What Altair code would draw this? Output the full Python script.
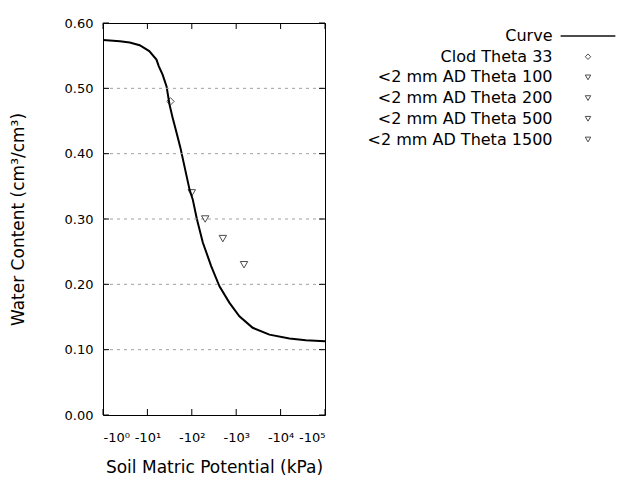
import altair as alt
import pandas as pd

# ---- data ----
curve_kpa = [1, 2.4, 4, 6.7, 11, 16, 18, 22, 27, 31.5, 37, 43, 55, 89, 105, 130, 177,
             273, 420, 700, 1180, 2350, 5600, 15800, 37000, 100000]
curve_theta = [0.574, 0.572, 0.570, 0.566, 0.557, 0.544, 0.534, 0.521, 0.503, 0.475,
               0.455, 0.438, 0.410, 0.345, 0.330, 0.300, 0.264, 0.228, 0.197, 0.172,
               0.151, 0.1335, 0.123, 0.117, 0.1145, 0.113]

point_names = ["Clod Theta 33", "<2 mm AD Theta 100", "<2 mm AD Theta 200",
               "<2 mm AD Theta 500", "<2 mm AD Theta 1500"]
point_kpa = [33, 100, 200, 500, 1500]
point_theta = [0.48, 0.34, 0.30, 0.27, 0.23]

series_order = ["Curve"] + point_names
series_shapes = ["M-10,-0.18L10,-0.18M-10,0.18L10,0.18", "diamond", "triangle-down",
                 "triangle-down", "triangle-down", "triangle-down"]

x_ticks = [1, 10, 100, 1000, 10000, 100000]
y_ticks = [0.0, 0.1, 0.2, 0.3, 0.4, 0.5, 0.6]
y_grid = [0.1, 0.2, 0.3, 0.4, 0.5]

W, H = 222, 392
FONT = "DejaVu Sans"

curve_df = pd.DataFrame({"kpa": curve_kpa, "theta": curve_theta})
pts_df = pd.DataFrame({"kpa": point_kpa, "theta": point_theta, "series": point_names})
xt_df = pd.DataFrame({"v": x_ticks})
yt_df = pd.DataFrame({"v": y_ticks})
yg_df = pd.DataFrame({"v": y_grid})

xscale = alt.Scale(type="log", domain=[1, 100000], nice=False)
yscale = alt.Scale(domain=[0, 0.6], nice=False, zero=False)

label_expr = ("'-10' + ['\u2070','\u00b9','\u00b2','\u00b3','\u2074','\u2075']"
              "[round(log(datum.value)/LN10)]")

x_axis = alt.Axis(values=x_ticks, labelExpr=label_expr, title="Soil Matric Potential (kPa)",
                  labelPadding=16, titlePadding=15, grid=False)
y_axis = alt.Axis(values=y_ticks, format=".2f", title="Water Content (cm\u00b3/cm\u00b3)",
                  labelPadding=10, titlePadding=37, grid=False)

curve = alt.Chart(curve_df).mark_line(color="black", strokeWidth=2, clip=True).encode(
    x=alt.X("kpa:Q", scale=xscale, axis=x_axis),
    y=alt.Y("theta:Q", scale=yscale, axis=y_axis),
)

grid = alt.Chart(yg_df).mark_rule(color="#a0a0a0", strokeDash=[3, 4], strokeWidth=1).encode(
    y=alt.Y("v:Q", scale=yscale),
    x=alt.value(0), x2=alt.value(W),
)

points = alt.Chart(pts_df).mark_point(filled=False, color="black", size=55, strokeWidth=1).encode(
    x=alt.X("kpa:Q", scale=xscale),
    y=alt.Y("theta:Q", scale=yscale),
    shape=alt.Shape("series:N",
                    scale=alt.Scale(domain=series_order, range=series_shapes),
                    legend=alt.Legend(title=None, orient="none", legendX=477, legendY=5,
                                      labelAlign="right", labelOffset={"expr": "-43.5"},
                                      labelFont=FONT, labelFontSize=16, labelColor="black",
                                      labelLimit=400, symbolSize=30, rowPadding=4.7, padding=0,
                                      symbolStrokeColor="black", symbolStrokeWidth=1,
                                      symbolFillColor="white")),
)

ticks_bottom = alt.Chart(xt_df).mark_rule(color="black").encode(
    x=alt.X("v:Q", scale=xscale), y=alt.value(H), y2=alt.value(H - 6))
ticks_top = alt.Chart(xt_df).mark_rule(color="black").encode(
    x=alt.X("v:Q", scale=xscale), y=alt.value(0), y2=alt.value(6))
ticks_left = alt.Chart(yt_df).mark_rule(color="black").encode(
    y=alt.Y("v:Q", scale=yscale), x=alt.value(0), x2=alt.value(6))
ticks_right = alt.Chart(yt_df).mark_rule(color="black").encode(
    y=alt.Y("v:Q", scale=yscale), x=alt.value(W), x2=alt.value(W - 6))

chart = alt.layer(curve, grid, ticks_bottom, ticks_top, ticks_left, ticks_right, points).properties(
    width=W, height=H,
    background="white",
    autosize=alt.AutoSizeParams(type="none"),
    padding={"left": 103, "top": 23, "right": 640 - 103 - W, "bottom": 480 - 23 - H},
).configure_view(
    stroke="black", strokeWidth=1
).configure_axis(
    labelFont=FONT, labelFontSize=13, labelColor="black",
    titleFont=FONT, titleFontSize=17, titleFontWeight="normal", titleColor="black",
    domain=False, ticks=False,
)

chart.save("out.html", embed_options={"renderer": "svg", "actions": False})
